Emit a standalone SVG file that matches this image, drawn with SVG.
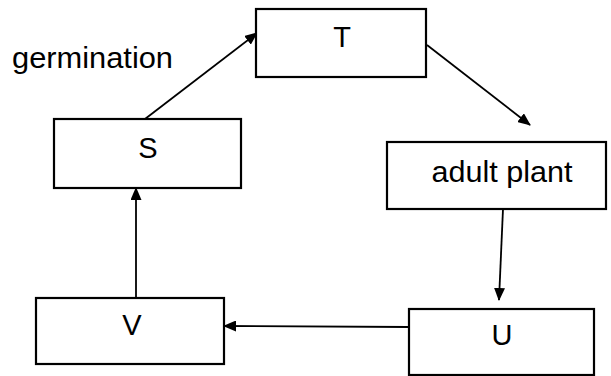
<svg xmlns="http://www.w3.org/2000/svg" width="611" height="376" viewBox="0 0 611 376">
  <style>
    .box { fill: #fff; stroke: #000; stroke-width: 2.2; }
    .lbl { font-family: "Liberation Sans", Arial, sans-serif; font-size: 29px; fill: #000; }
    .mid { text-anchor: middle; }
    .edge { stroke: #000; stroke-width: 1.8; fill: none; marker-end: url(#head); }
  </style>
  <defs>
    <marker id="head" viewBox="0 0 13 11" refX="12" refY="5.5" markerWidth="13" markerHeight="11" markerUnits="userSpaceOnUse" orient="auto">
      <path d="M0,0 L13,5.5 L0,11 Z" fill="#000"/>
    </marker>
  </defs>
  <rect width="611" height="376" fill="#fff"/>

  <g id="connectors">
    <line class="edge" x1="145" y1="119" x2="257" y2="33"/>
    <line class="edge" x1="427" y1="45" x2="530" y2="125"/>
    <line class="edge" x1="503" y1="209" x2="499" y2="300"/>
    <line class="edge" x1="409" y1="327" x2="224" y2="326"/>
    <line class="edge" x1="136" y1="298" x2="136" y2="188"/>
  </g>

  <g id="label-germination">
    <text class="lbl" x="12" y="68" textLength="161" lengthAdjust="spacingAndGlyphs">germination</text>
  </g>

  <g id="node-T">
    <rect class="box" x="256" y="9" width="170" height="68"/>
    <text class="lbl mid" x="342" y="47">T</text>
  </g>

  <g id="node-S">
    <rect class="box" x="54" y="119" width="187" height="69"/>
    <text class="lbl mid" x="148" y="158">S</text>
  </g>

  <g id="node-adult-plant">
    <rect class="box" x="387" y="142" width="219" height="67"/>
    <text class="lbl mid" x="502" y="182" textLength="141" lengthAdjust="spacingAndGlyphs">adult plant</text>
  </g>

  <g id="node-V">
    <rect class="box" x="36" y="298" width="188" height="66"/>
    <text class="lbl mid" x="132" y="335">V</text>
  </g>

  <g id="node-U">
    <rect class="box" x="409" y="309" width="185" height="66"/>
    <text class="lbl mid" x="502" y="345">U</text>
  </g>
</svg>
